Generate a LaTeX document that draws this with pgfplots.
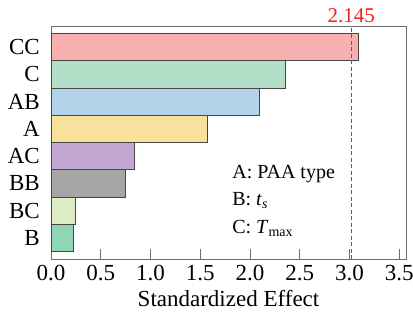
\documentclass[border=0pt]{standalone}
\usepackage{fontspec}
\setmainfont{Liberation Serif}
\setsansfont{Liberation Serif}
\usepackage{pgfplots}
\pgfplotsset{compat=1.18}
\definecolor{cCC}{HTML}{F7B0B0}
\definecolor{cC}{HTML}{B3DEC8}
\definecolor{cAB}{HTML}{B3D3EA}
\definecolor{cA}{HTML}{F7E19C}
\definecolor{cAC}{HTML}{C3A8D3}
\definecolor{cBB}{HTML}{A6A6A6}
\definecolor{cBC}{HTML}{DCEDC8}
\definecolor{cB}{HTML}{8FD6B5}
\definecolor{axgray}{HTML}{6E6E6E}
\definecolor{edge}{HTML}{454545}
\definecolor{refred}{HTML}{F02020}
\begin{document}
\begin{tikzpicture}
\begin{axis}[
  name=ax,
  scale only axis,
  width=355pt, height=233pt,
  xmin=0, xmax=3.567,
  ymin=-0.78, ymax=7.78,
  xtick={0,0.5,1,1.5,2,2.5,3,3.5},
  xtick pos=left,
  tick align=inside,
  major tick length=10pt,
  xtick style={axgray, line width=0.8pt},
  ytick={0,1,2,3,4,5,6,7},
  yticklabels={B,BC,BB,AC,A,AB,C,CC},
  ytick style={draw=none},
  axis line style={axgray, line width=0.9pt},
  /pgf/number format/assume math mode=true,
  /pgf/number format/fixed,
  /pgf/number format/fixed zerofill,
  /pgf/number format/precision=1,
  tick label style={font=\rmfamily\fontsize{23}{27}\selectfont},
  xticklabel style={anchor=base, inner sep=0pt, yshift=-21pt},
  yticklabel style={anchor=east, inner sep=0pt, xshift=-11pt},
  xlabel={Standardized Effect},
  xlabel style={font=\rmfamily\fontsize{23}{27}\selectfont, at={(axis description cs:0.5,0)}, anchor=base, inner sep=0pt, yshift=-47.5pt},
  barstyle/.style={xbar, bar width=1, bar shift=0pt, draw=edge, line width=0.8pt},
  clip=false,
]
\addplot[barstyle, fill=cCC] coordinates {(3.088,7)};
\addplot[barstyle, fill=cC] coordinates {(2.352,6)};
\addplot[barstyle, fill=cAB] coordinates {(2.098,5)};
\addplot[barstyle, fill=cA] coordinates {(1.572,4)};
\addplot[barstyle, fill=cAC] coordinates {(0.843,3)};
\addplot[barstyle, fill=cBB] coordinates {(0.750,2)};
\addplot[barstyle, fill=cBC] coordinates {(0.250,1)};
\addplot[barstyle, fill=cB] coordinates {(0.224,0)};
\addplot[sharp plot, no marks, color=refred, dash pattern=on 4pt off 2.5pt, line width=1.1pt] coordinates {(3.018,-0.78) (3.018,7.78)};
\node[text=refred, anchor=base, inner sep=0pt, font=\rmfamily\fontsize{21}{25}\selectfont] at ([yshift=3pt]axis cs:3.018,7.78) {2.145};
\node[anchor=base west, inner sep=0pt, font=\rmfamily\fontsize{20}{24}\selectfont] at (axis cs:1.82,2.19) {A: PAA type};
\node[anchor=base west, inner sep=0pt, font=\rmfamily\fontsize{20}{24}\selectfont] at (axis cs:1.82,1.20) {B: \textit{t}\textsubscript{\textit{s}}};
\node[anchor=base west, inner sep=0pt, font=\rmfamily\fontsize{20}{24}\selectfont] at (axis cs:1.82,0.17) {C: \textit{T}\textsubscript{max}};
\end{axis}
\pgfresetboundingbox
\path ([shift={(-51pt,-53pt)}]ax.south west) rectangle ([shift={(7pt,26pt)}]ax.north east);
\end{tikzpicture}
\end{document}
